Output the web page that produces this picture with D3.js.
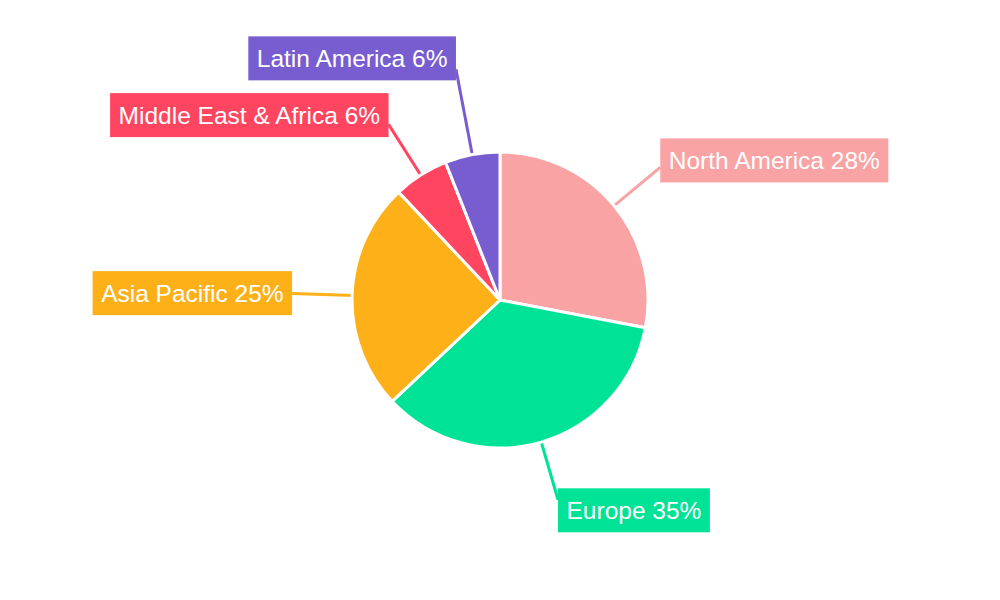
<!DOCTYPE html>
<html><head><meta charset="utf-8">
<script src="https://cdn.jsdelivr.net/npm/d3@7"></script>
<style>body{margin:0;background:#fff}svg{display:block}text{font-family:"Liberation Sans",Arial,sans-serif}</style>
</head><body>
<svg id="c" width="1000" height="600"></svg>
<script>
const categories = ["North America", "Europe", "Asia Pacific", "Middle East & Africa", "Latin America"];
const values = [28, 35, 25, 6, 6];
const colors = ["#F9A3A4", "#00E396", "#FEB019", "#FF4560", "#775DD0"];

const svg = d3.select("#c");
const cx = 500, cy = 300, R = 148;
const g = svg.append("g").attr("transform", `translate(${cx},${cy})`);
const total = d3.sum(values);
const data = categories.map((c, i) => ({name: c, value: values[i], color: colors[i]}));
const pie = d3.pie().value(d => d.value).sort(null);
const arcs = pie(data);
const arc = d3.arc().innerRadius(0).outerRadius(R);

const fontSize = 24.5, padX = 8.5, boxH = 44;
const baseLabelR = 208;

const meas = svg.append("text").attr("font-size", fontSize);
arcs.forEach(a => {
  a.label = `${a.data.name} ${Math.round(a.data.value / total * 100)}%`;
  meas.text(a.label);
  a.tw = meas.node().getComputedTextLength();
  a.mid = (a.startAngle + a.endAngle) / 2;
  a.lr = baseLabelR;
});
meas.remove();

function layout(a) {
  const s = Math.sin(a.mid), c = Math.cos(a.mid);
  const ax = s * a.lr, ay = -c * a.lr;
  const bw = a.tw + 2 * padX;
  const right = s >= 0;
  const bx = right ? ax : ax - bw;
  const bcy = ay - (boxH / 4) * c;
  return {ax, ay, bx, by: bcy - boxH / 2, bw, bh: boxH};
}
const gap = 12;
function overlap(p, q) {
  return p.bx < q.bx + q.bw && q.bx < p.bx + p.bw && p.by < q.by + q.bh + gap && q.by < p.by + p.bh + gap;
}
for (let iter = 0; iter < 300; iter++) {
  let moved = false;
  for (let i = 0; i < arcs.length; i++) {
    for (let j = 0; j < i; j++) {
      if (overlap(layout(arcs[i]), layout(arcs[j]))) { arcs[i].lr += 1; moved = true; }
    }
  }
  if (!moved) break;
}

arcs.forEach(a => {
  const L = layout(a);
  const s = Math.sin(a.mid), c = Math.cos(a.mid);
  g.append("line")
    .attr("x1", s * (R - 10)).attr("y1", -c * (R - 10))
    .attr("x2", L.ax).attr("y2", L.ay)
    .attr("stroke", a.data.color).attr("stroke-width", 3);
});

g.selectAll("path.slice").data(arcs).join("path")
  .attr("class", "slice")
  .attr("d", arc)
  .attr("fill", d => d.data.color)
  .attr("stroke", "#fff").attr("stroke-width", 3).attr("stroke-linejoin", "round");

arcs.forEach(a => {
  const L = layout(a);
  const lg = g.append("g");
  lg.append("rect").attr("x", L.bx).attr("y", L.by).attr("width", L.bw).attr("height", L.bh)
    .attr("fill", a.data.color);
  lg.append("text").attr("x", L.bx + padX).attr("y", L.by + L.bh / 2)
    .attr("dy", "0.35em").attr("font-size", fontSize).attr("fill", "#fff")
    .text(a.label);
});
</script>
</body></html>
